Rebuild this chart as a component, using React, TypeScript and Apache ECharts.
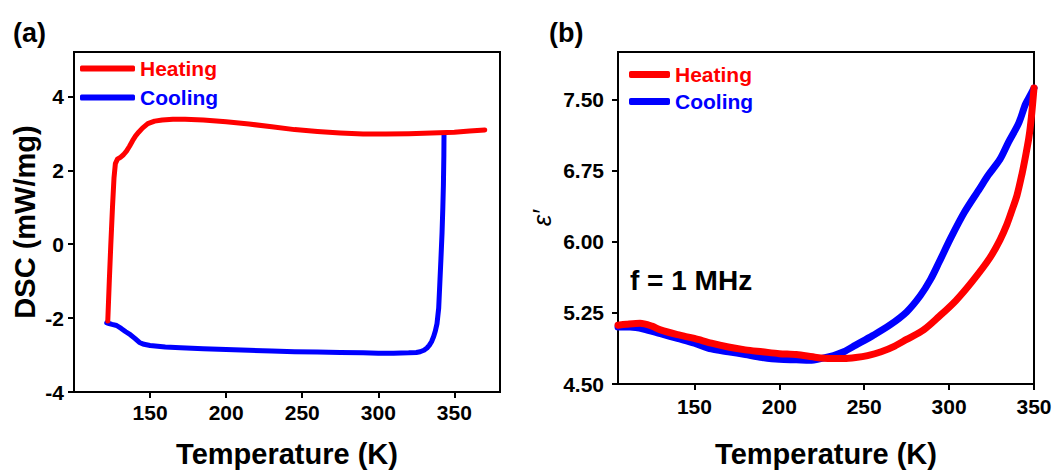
import React, { useEffect, useRef } from "react";
import * as echarts from "echarts";

// Panel (a): DSC
const dscHeatT = [122.2, 123.2, 124.2, 125.3, 126.3, 127.2, 128.5, 130.5, 132.5, 134.5, 136.5, 138.5, 140.5, 142.5, 145, 148.5, 153, 158, 165, 173, 185, 200, 215, 230, 245, 260, 275, 290, 305, 320, 335, 350, 360, 370];
const dscHeatV = [-2.08, -1.0, 0.0, 1.0, 1.8, 2.18, 2.3, 2.35, 2.42, 2.52, 2.65, 2.8, 2.93, 3.03, 3.14, 3.26, 3.33, 3.36, 3.38, 3.38, 3.36, 3.31, 3.25, 3.18, 3.1, 3.05, 3.01, 2.98, 2.98, 2.99, 3.01, 3.03, 3.06, 3.09];
const dscCoolT = [343.2, 343.1, 342.8, 342.4, 341.9, 341.2, 340.4, 339.7, 338.6, 337.5, 336.4, 335, 333.5, 332, 330, 327.5, 325, 320, 310, 300, 290, 275, 260, 245, 230, 215, 200, 185, 170, 160, 150, 146, 143, 140, 137, 134, 131, 128, 125, 122.5, 121.5];
const dscCoolV = [2.97, 2.4, 1.6, 0.96, 0.3, -0.38, -1.1, -1.73, -2.15, -2.35, -2.5, -2.64, -2.74, -2.81, -2.87, -2.91, -2.93, -2.94, -2.95, -2.95, -2.94, -2.93, -2.92, -2.91, -2.89, -2.87, -2.85, -2.83, -2.8, -2.78, -2.74, -2.71, -2.66, -2.55, -2.45, -2.37, -2.28, -2.2, -2.17, -2.14, -2.13];

// Panel (b): dielectric constant at 1 MHz
const epsHeatT = [105, 110, 118, 125, 130, 140, 150, 160, 170, 180, 190, 200, 210, 222, 230, 238, 245, 252, 260, 268, 275, 285, 294, 304, 314, 324, 330, 334, 337, 340, 343, 345, 347, 348.5, 350];
const epsHeatV = [5.12, 5.13, 5.14, 5.11, 5.07, 5.02, 4.98, 4.93, 4.89, 4.86, 4.84, 4.82, 4.81, 4.78, 4.77, 4.77, 4.78, 4.8, 4.84, 4.9, 4.97, 5.07, 5.21, 5.38, 5.59, 5.83, 6.02, 6.18, 6.33, 6.49, 6.72, 6.9, 7.1, 7.32, 7.62];
const epsCoolT = [105, 112, 120, 130, 140, 150, 160, 170, 180, 190, 200, 210, 218, 225, 232, 238, 245, 255, 265, 275, 283, 289, 294, 301, 309, 318, 323, 330, 335, 341, 345, 348, 350];
const epsCoolV = [5.1, 5.1, 5.08, 5.03, 4.98, 4.93, 4.87, 4.84, 4.81, 4.78, 4.76, 4.755, 4.75, 4.77, 4.8, 4.84, 4.91, 5.01, 5.12, 5.26, 5.43, 5.6, 5.78, 6.04, 6.31, 6.56, 6.7, 6.87, 7.05, 7.25, 7.45, 7.55, 7.62];

const dscXTicks = [150, 200, 250, 300, 350];
const dscYTicks = [-4, -2, 0, 2, 4];
const epsXTicks = [150, 200, 250, 300, 350];
const epsYTicks = [4.5, 5.25, 6.0, 6.75, 7.5];

const RED = "#ff0000";
const BLUE = "#0000ff";
const FONT = "'Liberation Sans', Arial, sans-serif";

const pairs = (t: number[], v: number[]) => t.map((x, i) => [x, v[i]]);

function axis(extra: any, ticks: number[], labelMargin: number, fmt?: (v: number) => string) {
  return {
    type: "value",
    splitLine: { show: false },
    axisLine: { show: true, onZero: false, lineStyle: { color: "#000", width: 2 } },
    axisTick: { show: true, inside: false, length: 6, customValues: ticks, lineStyle: { color: "#000", width: 2 } },
    axisLabel: {
      color: "#000",
      fontSize: 21,
      fontWeight: "bold",
      fontFamily: FONT,
      margin: labelMargin,
      customValues: ticks,
      formatter: fmt,
    },
    nameLocation: "middle",
    nameTextStyle: { color: "#000", fontSize: 29, fontWeight: "bold", fontFamily: FONT },
    ...extra,
  };
}

function legend(left: number, top: number, w: number, h: number, gap: number) {
  return {
    left,
    top,
    orient: "vertical",
    padding: 0,
    itemWidth: w,
    itemHeight: h,
    itemGap: gap,
    icon: "roundRect",
    selectedMode: false,
    textStyle: { fontSize: 21, fontWeight: "bold", fontFamily: FONT },
    data: [
      { name: "Heating", textStyle: { color: RED } },
      { name: "Cooling", textStyle: { color: BLUE } },
    ],
  };
}

function line(name: string, color: string, data: number[][], idx: number, width: number, z: number, smooth: any) {
  return {
    name,
    type: "line",
    xAxisIndex: idx,
    yAxisIndex: idx,
    data,
    showSymbol: false,
    symbol: "none",
    smooth,
    z,
    itemStyle: { color },
    lineStyle: { color, width, cap: "round", join: "round" },
  };
}

export default function App() {
  const ref = useRef<HTMLDivElement>(null);
  useEffect(() => {
    if (!ref.current) return;
    const chart = echarts.init(ref.current, null, { renderer: "svg" });
    chart.setOption({
      animation: false,
      backgroundColor: "#fff",
      grid: [
        { left: 74, top: 52, width: 426, height: 343, show: true, borderColor: "#000", borderWidth: 2 },
        { left: 618, top: 52, width: 416, height: 336, show: true, borderColor: "#000", borderWidth: 2 },
      ],
      xAxis: [
        axis({ gridIndex: 0, min: 100, max: 380, name: "Temperature (K)", nameGap: 47 }, dscXTicks, 10),
        axis({ gridIndex: 1, min: 105, max: 350, name: "Temperature (K)", nameGap: 55 }, epsXTicks, 12),
      ],
      yAxis: [
        axis({ gridIndex: 0, min: -4, max: 5.2, name: "DSC (mW/mg)", nameGap: 35 }, dscYTicks, 10),
        axis(
          {
            gridIndex: 1,
            min: 4.5,
            max: 8.0,
            name: "ε′",
            nameGap: 63,
            nameTextStyle: { color: "#000", fontSize: 26, fontStyle: "italic", fontWeight: "normal", fontFamily: FONT },
          },
          epsYTicks,
          14,
          (v: number) => v.toFixed(2)
        ),
      ],
      legend: [legend(80, 58, 55, 6, 8), legend(629, 64, 41, 7, 6)],
      series: [
        line("Cooling", BLUE, pairs(dscCoolT, dscCoolV), 0, 5, 2, false),
        line("Heating", RED, pairs(dscHeatT, dscHeatV), 0, 5, 3, false),
        line("Cooling", BLUE, pairs(epsCoolT, epsCoolV), 1, 7, 2, 0.3),
        line("Heating", RED, pairs(epsHeatT, epsHeatV), 1, 7, 3, 0.3),
      ],
      graphic: [
        { type: "text", left: 13, top: 19, style: { text: "(a)", fontSize: 27, fontWeight: "bold", fontFamily: FONT, fill: "#000" } },
        { type: "text", left: 549, top: 19, style: { text: "(b)", fontSize: 27, fontWeight: "bold", fontFamily: FONT, fill: "#000" } },
        { type: "text", left: 630, top: 266, style: { text: "f = 1 MHz", fontSize: 28, fontWeight: "bold", fontFamily: FONT, fill: "#000" } },
      ],
    });
    return () => chart.dispose();
  }, []);
  return (
    <div
      ref={ref}
      style={{ position: "fixed", left: 0, top: 0, width: 1055, height: 473, background: "#fff" }}
    />
  );
}
